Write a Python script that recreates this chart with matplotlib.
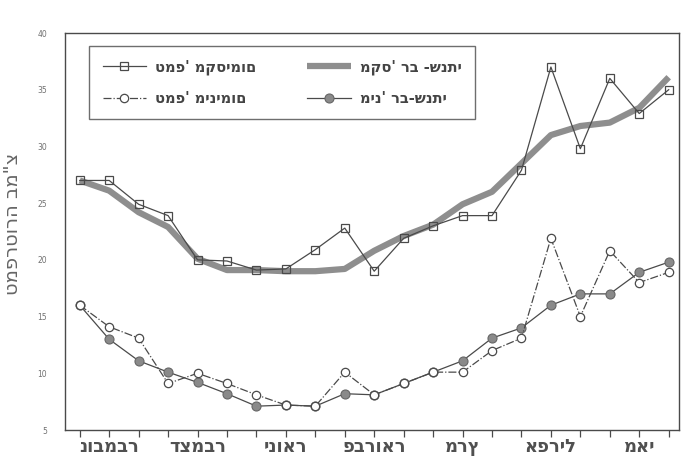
import matplotlib.pyplot as plt
import numpy as np

# Reading data (values per 10-day period, Nov - May)
decades = list(range(21))
month_names = ['נובמבר', 'דצמבר', 'ינואר', 'פברואר', 'מרץ', 'אפריל', 'מאי']
month_pos = [1, 4, 7, 10, 13, 16, 19]
y_ticks = [5, 10, 15, 20, 25, 30, 35, 40]

max_daily = [27.0, 27.0, 24.9, 23.9, 20.0, 19.9, 19.1, 19.2, 20.9, 22.8, 19.0,
             21.9, 23.0, 23.9, 23.9, 27.9, 37.0, 29.8, 36.0, 32.9, 35.0]
max_multi = [27.0, 26.1, 24.2, 22.9, 20.1, 19.1, 19.1, 19.0, 19.0, 19.2, 20.8,
             22.1, 23.1, 24.9, 26.0, 28.5, 31.0, 31.8, 32.1, 33.4, 36.1]
min_daily = [16.0, 14.1, 13.1, 9.1, 10.0, 9.1, 8.1, 7.2, 7.1, 10.1, 8.1,
             9.1, 10.1, 10.1, 12.0, 13.1, 21.9, 15.0, 20.8, 18.0, 18.9]
min_multi = [16.0, 13.0, 11.1, 10.1, 9.2, 8.2, 7.1, 7.2, 7.1, 8.2, 8.1,
             9.1, 10.1, 11.1, 13.1, 14.0, 16.0, 17.0, 17.0, 18.9, 19.8]

lbl_max_daily = "טמפ' מקסימום"
lbl_min_daily = "טמפ' מינימום"
lbl_max_multi = "מקס' רב -שנתי"
lbl_min_multi = "מינ' רב-שנתי"
y_title = 'טמפרטורה במ"צ'

plt.rcParams['font.family'] = ['DejaVu Sans']
plt.rcParams['font.weight'] = 'bold'

dark = '#4a4a4a'
thick_col = '#8e8e8e'

fig = plt.figure(figsize=(6.81, 4.57), dpi=100)
ax = fig.add_axes([65/681, 1-430/457, 614/681, 397/457])

ax.plot(decades, max_multi, color=thick_col, linewidth=4.5, solid_capstyle='butt',
        label=lbl_max_multi, zorder=2)
ax.plot(decades, max_daily, color=dark, linewidth=0.9, marker='s', markersize=6,
        markerfacecolor='none', markeredgecolor=dark, markeredgewidth=0.9,
        label=lbl_max_daily, zorder=3)
ax.plot(decades, min_multi, color=dark, linewidth=0.9, marker='o', markersize=6.5,
        markerfacecolor='#8a8a8a', markeredgecolor='#666666', markeredgewidth=0.8,
        label=lbl_min_multi, zorder=3)
ax.plot(decades, min_daily, color=dark, linewidth=0.9, linestyle='-.', marker='o',
        markersize=6, markerfacecolor='white', markeredgecolor=dark,
        markeredgewidth=0.9, label=lbl_min_daily, zorder=4)

ax.set_xlim(-0.5, 20.35)
ax.set_ylim(5, 40)

ax.set_xticks(decades)
xlabels = [''] * len(decades)
for p, m in zip(month_pos, month_names):
    xlabels[p] = m
ax.set_xticklabels(xlabels, fontsize=13, color='#505050')
ax.tick_params(axis='x', direction='out', length=5, width=0.9, color=dark, pad=1)

ax.set_yticks(y_ticks)
ax.set_yticklabels([str(v) for v in y_ticks], fontsize=5.5, color='#707070',
                   fontweight='normal')
ax.tick_params(axis='y', length=0, pad=13)

ax.set_ylabel(y_title, fontsize=14, color='#666666')
ax.yaxis.set_label_coords(-0.07, 0.52)

for sp in ax.spines.values():
    sp.set_color(dark)
    sp.set_linewidth(1.0)

h, l = ax.get_legend_handles_labels()
order = [1, 3, 0, 2]
leg = ax.legend([h[i] for i in order], [l[i] for i in order], ncol=2,
                loc='upper left', bbox_to_anchor=(0.028, 0.985),
                prop={'size': 10.5, 'weight': 'bold'}, frameon=True, fancybox=False,
                edgecolor=dark, handlelength=3.0, handletextpad=0.6,
                columnspacing=3.5, labelspacing=1.1, borderpad=0.9)
leg.get_frame().set_linewidth(1.0)
for t in leg.get_texts():
    t.set_color('#444444')

plt.savefig('out.png', dpi=100)
